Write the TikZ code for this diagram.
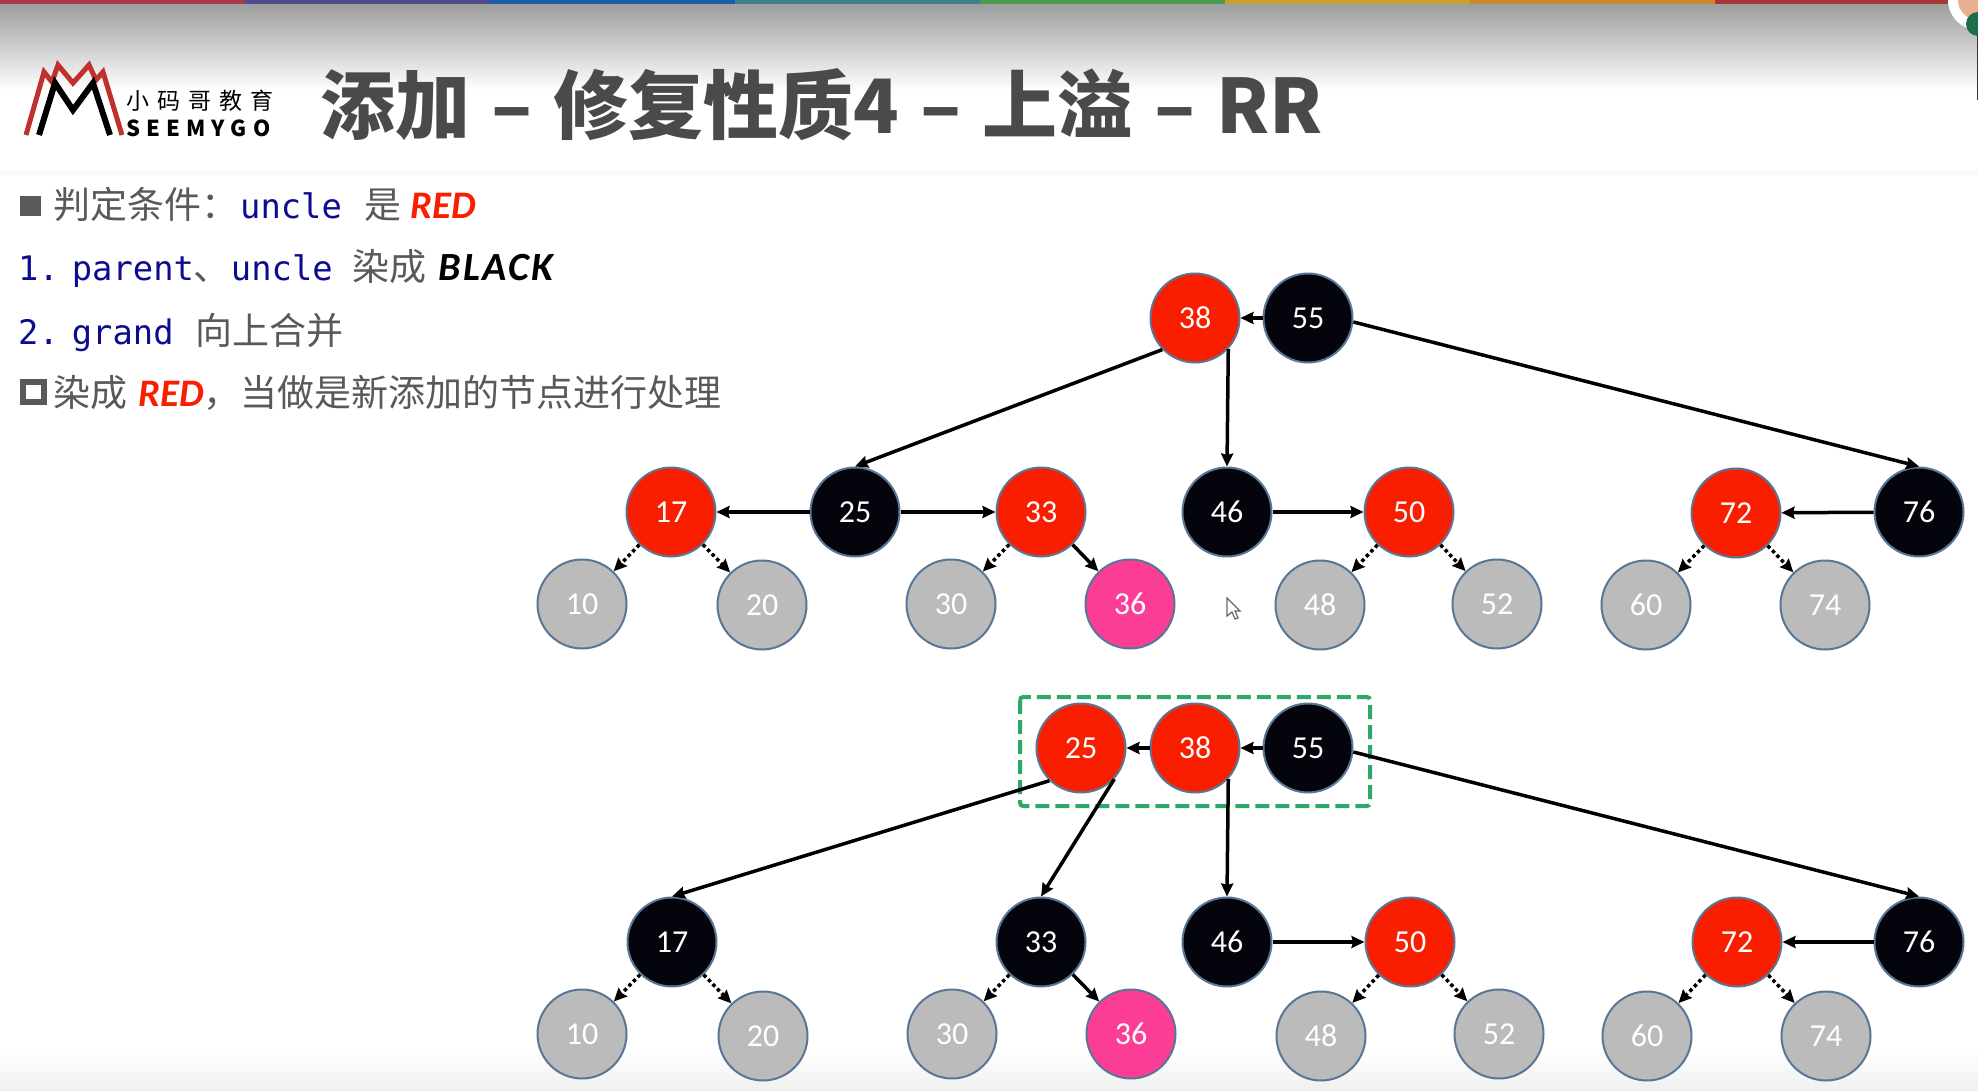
\documentclass[tikz,border=0pt]{standalone}
\usepackage{fontspec}
\usetikzlibrary{arrows.meta}
\setmainfont{Noto Sans CJK SC}
\newfontfamily\codefont{DejaVu Sans Mono}
\newfontfamily\keyfont{Carlito}
\newfontfamily\blackfont[LetterSpace=6]{Carlito}
\newfontfamily\logofont[LetterSpace=28]{Noto Sans CJK SC}
\newcommand{\code}[1]{{\codefont\fontsize{33.8}{36}\selectfont\color{codeblue}#1}}
\newcommand{\keyword}[2]{{\keyfont\fontsize{39}{40}\selectfont\bfseries\itshape\color{#1}#2}}
\definecolor{codeblue}{HTML}{0C0C90}
\definecolor{textgray}{HTML}{595959}
\definecolor{titlegray}{HTML}{4A4A4A}
\definecolor{nodered}{HTML}{FA1E00}
\definecolor{nodeblack}{HTML}{04040C}
\definecolor{nodegray}{HTML}{BBBBBB}
\definecolor{nodepink}{HTML}{FB3D96}
\definecolor{nodeedge}{HTML}{587696}
\definecolor{boxgreen}{HTML}{2CA868}
\definecolor{logored}{HTML}{C0302C}
\definecolor{stripa}{HTML}{A83A4E}
\definecolor{stripb}{HTML}{504C90}
\definecolor{stripc}{HTML}{1E5CA8}
\definecolor{stripd}{HTML}{3F8090}
\definecolor{stripe}{HTML}{4A9A50}
\definecolor{stripf}{HTML}{C8A030}
\definecolor{stripg}{HTML}{C88830}
\definecolor{striph}{HTML}{A83838}
\definecolor{skin}{HTML}{E8B090}
\definecolor{jersey}{HTML}{1E6E4C}

\begin{document}
\begin{tikzpicture}[x=1pt,y=-1pt,
	treenode/.style={circle,draw=nodeedge,line width=2pt,minimum size=89pt,inner sep=0pt,text=white,font=\keyfont\fontsize{32}{32}\selectfont},
	rednode/.style={treenode,fill=nodered},
	blacknode/.style={treenode,fill=nodeblack},
	nilnode/.style={treenode,fill=nodegray},
	newnode/.style={treenode,fill=nodepink},
	link/.style={line width=3.5pt,-{Stealth[length=13pt,width=12pt,inset=1.5pt]}},
	nillink/.style={link,dash pattern=on 3.5pt off 3pt},
	line/.style={anchor=base west,inner sep=0pt,text=textgray,font=\fontsize{37}{40}\selectfont}]
	\useasboundingbox (0,0) rectangle (1978,1091);
	
	% background
	\fill[white] (0,0) rectangle (1978,1091);
	\shade[top color=black!38,bottom color=white] (0,4) rectangle (1978,90);
	\shade[top color=white,bottom color=black!6] (0,1050) rectangle (1978,1091);
	\fill[black!2] (0,170) rectangle (1978,176);
	\fill[stripa] (0,0) rectangle (245,4);
	\fill[stripb] (245,0) rectangle (490,4);
	\fill[stripc] (490,0) rectangle (735,4);
	\fill[stripd] (735,0) rectangle (980,4);
	\fill[stripe] (980,0) rectangle (1225,4);
	\fill[stripf] (1225,0) rectangle (1470,4);
	\fill[stripg] (1470,0) rectangle (1715,4);
	\fill[striph] (1715,0) rectangle (1978,4);
	
	% corner picture
	\begin{scope}
		\clip (1900,0) rectangle (1978,40);
		\fill[white] (1978,0) circle (30);
		\fill[skin] (1978,0) circle (20);
		\fill[jersey] (1978,24) circle (12);
	\end{scope}
	\draw[black!80,line width=1pt] (1977.5,34) -- (1977.5,100);
	
	% logo
	\draw[logored,line width=5pt,line join=miter] (26,135) -- (44,72) -- (52,82) -- (58,65) -- (73,83) -- (89,65) -- (96,80) -- (103,72) -- (122,135);
	\draw[black,line width=6pt] (39,135) -- (55,83) -- (73,110) -- (93,83) -- (110,135);
	\node[anchor=base west,inner sep=0pt,font=\logofont\fontsize{23}{23}\selectfont] (logotop) at (126,110) {小\hspace{8pt}码\hspace{8pt}哥\hspace{8pt}教\hspace{8pt}育};
	\node[anchor=base west,inner sep=0pt,font=\logofont\bfseries\fontsize{22}{22}\selectfont] (logobottom) at (126,137) {SEEMYGO};
	
	% title
	\node[anchor=base west,inner sep=0pt,text=titlegray,font=\bfseries\fontsize{75}{80}\selectfont] (title) at (320,134) {添加\hspace{4pt} – \hspace{4pt}修复性质4\hspace{4pt} – \hspace{4pt}上溢\hspace{4pt} – \hspace{4pt}RR};
	
	% text
	\fill[textgray] (20,196) rectangle (41,216);
	\node[line] (line1) at (53,219) {判定条件：\hspace{2pt}\code{uncle}\hspace{23pt}是\hspace{9pt}\keyword{nodered}{RED}};
	\node[line] (line2) at (18,281) {\code{1.\hspace{13pt}parent}、\code{uncle}\hspace{20pt}染成\hspace{12pt}{\blackfont\fontsize{40}{40}\selectfont\bfseries\itshape\color{black}BLACK}};
	\node[line] (line3) at (18,344) {\code{2.\hspace{13pt}grand}\hspace{22pt}向上合并};
	\draw[textgray,line width=6pt] (23,382) rectangle (44,402);
	\node[line] (line4) at (53,406) {染成\hspace{11pt}\keyword{nodered}{RED}，当做是新添加的节点进行处理};
	
	% cursor
	\draw[black!60,fill=white,line width=1.2pt] (1227,598) -- (1227,616) -- (1232,612) -- (1235,619) -- (1238,618) -- (1235,611) -- (1240,611) -- cycle;
	
	% green box
	\draw[boxgreen,line width=4pt,dash pattern=on 14pt off 6pt,rounded corners=3pt] (1020,697) rectangle (1370,806);
	
	% top tree
	\node[rednode] (a38) at (1195,318) {38};
	\node[blacknode] (a55) at (1308,318) {55};
	\node[rednode] (a17) at (671,512) {17};
	\node[blacknode] (a25) at (855,512) {25};
	\node[rednode] (a33) at (1041,512) {33};
	\node[blacknode] (a46) at (1227,512) {46};
	\node[rednode] (a50) at (1409,512) {50};
	\node[rednode] (a72) at (1736,513) {72};
	\node[blacknode] (a76) at (1919,512) {76};
	\node[nilnode] (a10) at (582,604) {10};
	\node[nilnode] (a20) at (762,605) {20};
	\node[nilnode] (a30) at (951,604) {30};
	\node[newnode] (a36) at (1130,604) {36};
	\node[nilnode] (a48) at (1320,605) {48};
	\node[nilnode] (a52) at (1497,604) {52};
	\node[nilnode] (a60) at (1646,605) {60};
	\node[nilnode] (a74) at (1825,605) {74};
	
	\draw[link] (a55) -- (a38);
	\draw[link] (a38.-136) -- (a25.north);
	\draw[link] (a38.-43) -- (a46.north);
	\draw[link] (a55.-5) -- (a76.north);
	\draw[link] (a25) -- (a17);
	\draw[link] (a25) -- (a33);
	\draw[link] (a46) -- (a50);
	\draw[link] (a76) -- (a72);
	\draw[link] (a33) -- (a36);
	\draw[nillink] (a17) -- (a10);
	\draw[nillink] (a17) -- (a20);
	\draw[nillink] (a33) -- (a30);
	\draw[nillink] (a50) -- (a48);
	\draw[nillink] (a50) -- (a52);
	\draw[nillink] (a72) -- (a60);
	\draw[nillink] (a72) -- (a74);
	
	% bottom tree
	\node[rednode] (b25) at (1081,748) {25};
	\node[rednode] (b38) at (1195,748) {38};
	\node[blacknode] (b55) at (1308,748) {55};
	\node[blacknode] (b17) at (672,942) {17};
	\node[blacknode] (b33) at (1041,942) {33};
	\node[blacknode] (b46) at (1227,942) {46};
	\node[rednode] (b50) at (1410,942) {50};
	\node[rednode] (b72) at (1737,942) {72};
	\node[blacknode] (b76) at (1919,942) {76};
	\node[nilnode] (b10) at (582,1034) {10};
	\node[nilnode] (b20) at (763,1036) {20};
	\node[nilnode] (b30) at (952,1034) {30};
	\node[newnode] (b36) at (1131,1034) {36};
	\node[nilnode] (b48) at (1321,1036) {48};
	\node[nilnode] (b52) at (1499,1034) {52};
	\node[nilnode] (b60) at (1647,1036) {60};
	\node[nilnode] (b74) at (1826,1036) {74};
	
	\draw[link] (b55) -- (b38);
	\draw[link] (b38) -- (b25);
	\draw[link] (b25.-134) -- (b17.north);
	\draw[link] (b25.-43) -- (b33.north);
	\draw[link] (b38.-43) -- (b46.north);
	\draw[link] (b55.-5) -- (b76.north);
	\draw[link] (b46) -- (b50);
	\draw[link] (b76) -- (b72);
	\draw[link] (b33) -- (b36);
	\draw[nillink] (b17) -- (b10);
	\draw[nillink] (b17) -- (b20);
	\draw[nillink] (b33) -- (b30);
	\draw[nillink] (b50) -- (b48);
	\draw[nillink] (b50) -- (b52);
	\draw[nillink] (b72) -- (b60);
	\draw[nillink] (b72) -- (b74);
\end{tikzpicture}
\end{document}
